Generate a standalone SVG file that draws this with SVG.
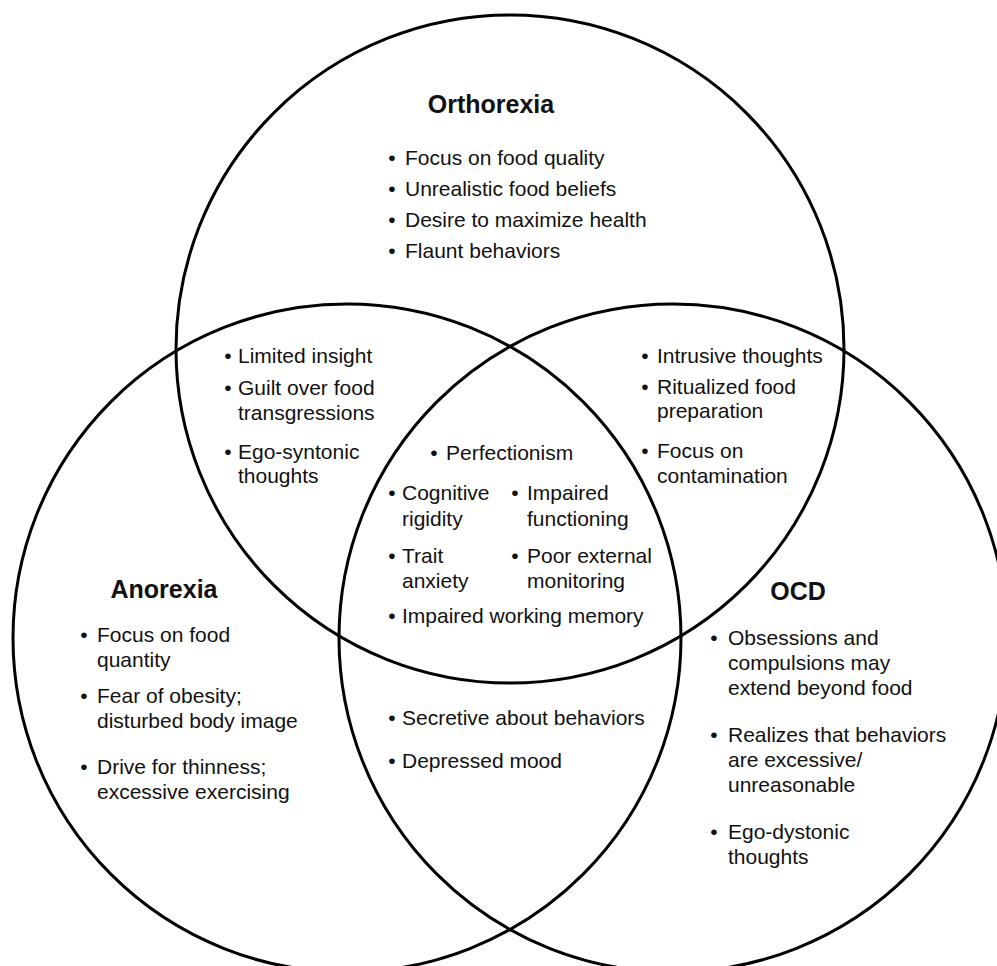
<svg xmlns="http://www.w3.org/2000/svg" width="997" height="966" viewBox="0 0 997 966">
<style>
.c{fill:none;stroke:#000;stroke-width:3}
text{font-family:"Liberation Sans",Arial,Helvetica,sans-serif;font-size:21px;fill:#111}
.t{font-weight:bold;font-size:25px;text-anchor:middle}
.d{text-anchor:middle}
</style>
<rect width="997" height="966" fill="#fff"/>
<g id="circles">
<circle class="c" cx="510" cy="349" r="334"/>
<circle class="c" cx="347" cy="638" r="334"/>
<circle class="c" cx="673" cy="638" r="334"/>
</g>
<g id="orthorexia">
<text class="t" x="491" y="113">Orthorexia</text>
<text class="d" x="392" y="164.5">•</text><text x="405" y="164.5">Focus on food quality</text>
<text class="d" x="392" y="195.8">•</text><text x="405" y="195.8">Unrealistic food beliefs</text>
<text class="d" x="392" y="227">•</text><text x="405" y="227">Desire to maximize health</text>
<text class="d" x="392" y="258.3">•</text><text x="405" y="258.3">Flaunt behaviors</text>
</g>
<g id="anorexia">
<text class="t" x="164" y="598">Anorexia</text>
<text class="d" x="84" y="641.7">•</text><text x="97" y="641.7">Focus on food</text>
<text x="97" y="666.7">quantity</text>
<text class="d" x="84" y="703.3">•</text><text x="97" y="703.3">Fear of obesity;</text>
<text x="97" y="728.3">disturbed body image</text>
<text class="d" x="84" y="774">•</text><text x="97" y="774">Drive for thinness;</text>
<text x="97" y="799">excessive exercising</text>
</g>
<g id="ocd">
<text class="t" x="798" y="600">OCD</text>
<text class="d" x="714" y="645">•</text><text x="728" y="645">Obsessions and</text>
<text x="728" y="670">compulsions may</text>
<text x="728" y="695">extend beyond food</text>
<text class="d" x="714" y="742">•</text><text x="728" y="742">Realizes that behaviors</text>
<text x="728" y="767">are excessive/</text>
<text x="728" y="792">unreasonable</text>
<text class="d" x="714" y="839.3">•</text><text x="728" y="839.3">Ego-dystonic</text>
<text x="728" y="864">thoughts</text>
</g>
<g id="orthorexia-anorexia">
<text class="d" x="228" y="362.7">•</text><text x="238" y="362.7">Limited insight</text>
<text class="d" x="228" y="395">•</text><text x="238" y="395">Guilt over food</text>
<text x="238" y="420">transgressions</text>
<text class="d" x="228" y="459">•</text><text x="238" y="459">Ego-syntonic</text>
<text x="238" y="483">thoughts</text>
</g>
<g id="orthorexia-ocd">
<text class="d" x="645" y="362.7">•</text><text x="657" y="362.7">Intrusive thoughts</text>
<text class="d" x="645" y="394">•</text><text x="657" y="394">Ritualized food</text>
<text x="657" y="418.3">preparation</text>
<text class="d" x="645" y="458.3">•</text><text x="657" y="458.3">Focus on</text>
<text x="657" y="482.7">contamination</text>
</g>
<g id="all-three">
<text class="d" x="434" y="460">•</text><text x="446" y="460">Perfectionism</text>
<text class="d" x="392" y="500">•</text><text x="402" y="500">Cognitive</text>
<text x="402" y="525.7">rigidity</text>
<text class="d" x="515" y="500">•</text><text x="527" y="500">Impaired</text>
<text x="527" y="525.7">functioning</text>
<text class="d" x="392" y="563.3">•</text><text x="402" y="563.3">Trait</text>
<text x="402" y="588.3">anxiety</text>
<text class="d" x="515" y="563.3">•</text><text x="527" y="563.3">Poor external</text>
<text x="527" y="588.3">monitoring</text>
<text class="d" x="392" y="622.7">•</text><text x="402" y="622.7">Impaired working memory</text>
</g>
<g id="anorexia-ocd">
<text class="d" x="392" y="725">•</text><text x="402" y="725">Secretive about behaviors</text>
<text class="d" x="392" y="768">•</text><text x="402" y="768">Depressed mood</text>
</g>
</svg>
